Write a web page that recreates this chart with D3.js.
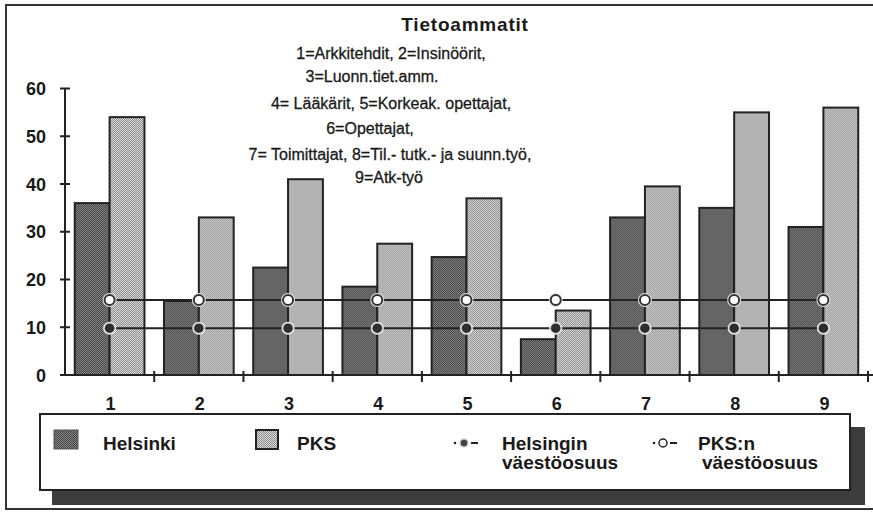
<!DOCTYPE html>
<html lang="fi">
<head>
    <meta charset="UTF-8">
    <title>Tietoammatit</title>
    <script src="https://cdn.jsdelivr.net/npm/d3@7"></script>
    <style>
        body { margin: 0; background: #ffffff; }
        text { font-family: "Liberation Sans", Arial, sans-serif; fill: #1a1a1a; }
        .bold { font-weight: bold; }
    </style>
</head>
<body>
    <div id="canvas"></div>

    <script>
        // data
        const categories = ['1', '2', '3', '4', '5', '6', '7', '8', '9'];
        const helsinki = [36, 15.5, 22.5, 18.5, 24.7, 7.5, 33, 35, 31];
        const pks = [54, 33, 41, 27.5, 37, 13.5, 39.5, 55, 56];
        const helsinkiShare = [9.8, 9.8, 9.8, 9.8, 9.8, 9.8, 9.8, 9.8, 9.8];
        const pksShare = [15.7, 15.7, 15.7, 15.7, 15.7, 15.7, 15.7, 15.7, 15.7];
        const yTicks = [0, 10, 20, 30, 40, 50, 60];
        const title = 'Tietoammatit';
        const subtitleLines = [
            '1=Arkkitehdit, 2=Insinöörit,',
            '3=Luonn.tiet.amm.',
            '4= Lääkärit, 5=Korkeak. opettajat,',
            '6=Opettajat,',
            '7= Toimittajat, 8=Til.- tutk.- ja suunn.työ,',
            '9=Atk-työ'
        ];
    </script>

    <script>
        const width = 873;
        const height = 512;
        const ink = '#222222';

        const svg = d3.select('#canvas')
            .append('svg')
            .attr('width', width)
            .attr('height', height);

        // patterns for the halftone look
        const defs = svg.append('defs');
        function checker(id, base, dot) {
            const p = defs.append('pattern')
                .attr('id', id)
                .attr('patternUnits', 'userSpaceOnUse')
                .attr('width', 2)
                .attr('height', 2);
            p.append('rect').attr('width', 2).attr('height', 2).attr('fill', base);
            p.append('rect').attr('width', 1).attr('height', 1).attr('fill', dot);
            p.append('rect').attr('x', 1).attr('y', 1).attr('width', 1).attr('height', 1).attr('fill', dot);
        }
        checker('patHel', '#858585', '#444444');
        checker('patPks', '#d8d8d8', '#8e8e8e');

        // outer frame
        svg.append('rect')
            .attr('x', 6).attr('y', 5)
            .attr('width', 880).attr('height', 504)
            .attr('fill', '#ffffff')
            .attr('stroke', '#333333')
            .attr('stroke-width', 2);

        // scales
        const x = d3.scaleBand()
            .domain(categories)
            .range([65, 868]);

        const sub = d3.scaleBand()
            .domain(['hel', 'pks'])
            .range([0, x.bandwidth()])
            .paddingOuter(0.28);

        const y = d3.scaleLinear()
            .domain([0, 60])
            .range([375, 88.5]);

        // title block
        svg.append('text')
            .attr('class', 'bold')
            .attr('x', 465).attr('y', 31)
            .attr('text-anchor', 'middle')
            .attr('font-size', 19)
            .attr('letter-spacing', 0.8)
            .text(title);

        const lineX = [391, 372, 391, 370, 390, 389];
        const lineY = [59, 82, 109, 134, 160, 183];
        svg.selectAll('.sub')
            .data(subtitleLines)
            .enter()
            .append('text')
            .attr('class', 'sub')
            .attr('x', (d, i) => lineX[i])
            .attr('y', (d, i) => lineY[i])
            .attr('text-anchor', 'middle')
            .attr('font-size', 16)
            .attr('stroke', '#1a1a1a')
            .attr('stroke-width', 0.3)
            .text(d => d);

        // bars
        const groups = svg.selectAll('.grp')
            .data(categories)
            .enter()
            .append('g')
            .attr('class', 'grp')
            .attr('transform', d => `translate(${x(d)},0)`);

        groups.append('rect')
            .attr('x', sub('hel'))
            .attr('y', (d, i) => y(helsinki[i]))
            .attr('width', sub.bandwidth())
            .attr('height', (d, i) => y(0) - y(helsinki[i]))
            .attr('fill', 'url(#patHel)')
            .attr('stroke', ink)
            .attr('stroke-width', 2);

        groups.append('rect')
            .attr('x', sub('pks'))
            .attr('y', (d, i) => y(pks[i]))
            .attr('width', sub.bandwidth())
            .attr('height', (d, i) => y(0) - y(pks[i]))
            .attr('fill', 'url(#patPks)')
            .attr('stroke', ink)
            .attr('stroke-width', 2);

        // axes
        const yAxis = svg.append('g');
        yAxis.append('line')
            .attr('x1', 65).attr('x2', 65)
            .attr('y1', y(60)).attr('y2', y(0))
            .attr('stroke', ink).attr('stroke-width', 2);
        yAxis.selectAll('.yt')
            .data(yTicks)
            .enter()
            .append('line')
            .attr('x1', 60).attr('x2', 70)
            .attr('y1', d => y(d)).attr('y2', d => y(d))
            .attr('stroke', ink).attr('stroke-width', 2);
        yAxis.selectAll('.yl')
            .data(yTicks)
            .enter()
            .append('text')
            .attr('class', 'bold')
            .attr('x', 46)
            .attr('y', d => y(d) + 6.5)
            .attr('text-anchor', 'end')
            .attr('font-size', 18)
            .text(d => d);

        const xAxis = svg.append('g');
        xAxis.append('line')
            .attr('x1', 60).attr('x2', 873)
            .attr('y1', y(0)).attr('y2', y(0))
            .attr('stroke', ink).attr('stroke-width', 2);
        xAxis.selectAll('.xt')
            .data(categories)
            .enter()
            .append('line')
            .attr('x1', d => x(d) + x.bandwidth())
            .attr('x2', d => x(d) + x.bandwidth())
            .attr('y1', y(0) - 4).attr('y2', y(0) + 7)
            .attr('stroke', ink).attr('stroke-width', 2);
        xAxis.selectAll('.xl')
            .data(categories)
            .enter()
            .append('text')
            .attr('class', 'bold')
            .attr('x', d => x(d) + x.bandwidth() / 2 + 1)
            .attr('y', 410)
            .attr('text-anchor', 'middle')
            .attr('font-size', 18)
            .text(d => d);

        // share lines
        const cx = d => x(d) + x.bandwidth() / 2;
        const line = d3.line()
            .x(d => cx(d[0]))
            .y(d => y(d[1]));

        [helsinkiShare, pksShare].forEach(vals => {
            const pts = categories.map((c, i) => [c, vals[i]]);
            svg.append('path')
                .attr('d', line(pts))
                .attr('fill', 'none')
                .attr('stroke', ink)
                .attr('stroke-width', 2);
        });

        // Helsinki markers: dark dot with light halo
        svg.selectAll('.mHelHalo')
            .data(categories)
            .enter()
            .append('circle')
            .attr('cx', cx)
            .attr('cy', (d, i) => y(helsinkiShare[i]))
            .attr('r', 6.5)
            .attr('fill', '#e4e4e4');
        svg.selectAll('.mHel')
            .data(categories)
            .enter()
            .append('circle')
            .attr('cx', cx)
            .attr('cy', (d, i) => y(helsinkiShare[i]))
            .attr('r', 4.8)
            .attr('fill', '#2e2e2e');

        // PKS markers: white dot with dark ring and light halo
        svg.selectAll('.mPksHalo')
            .data(categories)
            .enter()
            .append('circle')
            .attr('cx', cx)
            .attr('cy', (d, i) => y(pksShare[i]))
            .attr('r', 7)
            .attr('fill', '#e4e4e4');
        svg.selectAll('.mPks')
            .data(categories)
            .enter()
            .append('circle')
            .attr('cx', cx)
            .attr('cy', (d, i) => y(pksShare[i]))
            .attr('r', 5)
            .attr('fill', '#ffffff')
            .attr('stroke', '#333333')
            .attr('stroke-width', 2);

        // legend
        const legend = svg.append('g');
        legend.append('rect')
            .attr('x', 52).attr('y', 427)
            .attr('width', 813).attr('height', 78)
            .attr('fill', '#3c3c3c');
        legend.append('rect')
            .attr('x', 40).attr('y', 414)
            .attr('width', 810).attr('height', 76)
            .attr('fill', '#ffffff')
            .attr('stroke', ink)
            .attr('stroke-width', 2);

        legend.append('rect')
            .attr('x', 54).attr('y', 430).attr('width', 24).attr('height', 19)
            .attr('fill', 'url(#patHel)').attr('stroke', '#555555').attr('stroke-width', 1);
        legend.append('text').attr('class', 'bold')
            .attr('x', 103).attr('y', 450).attr('font-size', 19).text('Helsinki');

        legend.append('rect')
            .attr('x', 256).attr('y', 430).attr('width', 22).attr('height', 19)
            .attr('fill', 'url(#patPks)').attr('stroke', ink).attr('stroke-width', 2);
        legend.append('text').attr('class', 'bold')
            .attr('x', 297).attr('y', 450).attr('font-size', 19).text('PKS');

        function lineIcon(x0, fill, stroke) {
            legend.append('circle').attr('cx', x0).attr('cy', 443).attr('r', 1.3).attr('fill', ink);
            legend.append('line')
                .attr('x1', x0 + 16).attr('x2', x0 + 23)
                .attr('y1', 443).attr('y2', 443)
                .attr('stroke', ink).attr('stroke-width', 2);
            legend.append('circle').attr('cx', x0 + 9).attr('cy', 443).attr('r', 4)
                .attr('fill', fill).attr('stroke', stroke).attr('stroke-width', 1.5);
        }
        lineIcon(455, '#444444', '#cccccc');
        lineIcon(654, '#ffffff', ink);

        legend.append('text').attr('class', 'bold')
            .attr('x', 502).attr('y', 450).attr('font-size', 19).text('Helsingin');
        legend.append('text').attr('class', 'bold')
            .attr('x', 502).attr('y', 469).attr('font-size', 19).text('väestöosuus');
        legend.append('text').attr('class', 'bold')
            .attr('x', 698).attr('y', 450).attr('font-size', 19).text('PKS:n');
        legend.append('text').attr('class', 'bold')
            .attr('x', 702).attr('y', 469).attr('font-size', 19).text('väestöosuus');
    </script>
</body>
</html>
